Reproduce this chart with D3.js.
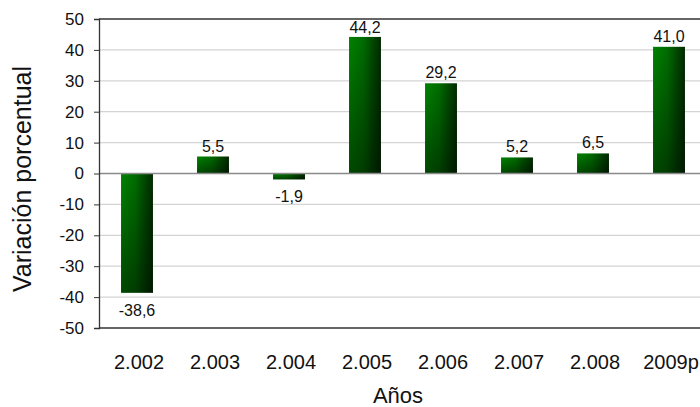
<!DOCTYPE html>
<html><head><meta charset="utf-8">
<script src="https://cdn.jsdelivr.net/npm/d3@7"></script>
<style>body{margin:0;background:#fff}svg{display:block;font-family:"Liberation Sans",Arial,sans-serif}</style>
</head><body><svg id="c" width="700" height="407"></svg>
<script>
const categories = ["2.002","2.003","2.004","2.005","2.006","2.007","2.008","2009p"];
const values = [-38.6, 5.5, -1.9, 44.2, 29.2, 5.2, 6.5, 41.0];
const valueLabels = ["-38,6","5,5","-1,9","44,2","29,2","5,2","6,5","41,0"];
const yTicks = [-50,-40,-30,-20,-10,0,10,20,30,40,50];
const yTitle = "Variación porcentual";
const xTitle = "Años";

const svg = d3.select("#c");
const L = 99, R = 707, T = 19, B = 328;
const x = d3.scaleBand().domain(categories).range([L, R]).paddingInner(0.58).paddingOuter(0.29);
const y = d3.scaleLinear().domain([-50, 50]).range([B, T]);

const defs = svg.append("defs");
const gh = defs.append("linearGradient").attr("id","gh").attr("x1",0).attr("x2",1).attr("y1",0).attr("y2",0);
gh.append("stop").attr("offset","0%").attr("stop-color","#008200");
gh.append("stop").attr("offset","45%").attr("stop-color","#006c00");
gh.append("stop").attr("offset","100%").attr("stop-color","#002a00");
const gv = defs.append("linearGradient").attr("id","gv").attr("x1",0).attr("x2",0).attr("y1",0).attr("y2",1);
gv.append("stop").attr("offset","0%").attr("stop-color","#000").attr("stop-opacity",0);
gv.append("stop").attr("offset","100%").attr("stop-color","#000").attr("stop-opacity",0.45);

// gridlines
svg.append("g").selectAll("line").data(yTicks.filter(d => d !== 0 && d !== 50 && d !== -50)).join("line")
  .attr("x1", L).attr("x2", 700).attr("y1", d => y(d)).attr("y2", d => y(d))
  .attr("stroke", "#d4d4d4").attr("stroke-width", 1.2);

// bars
const bars = svg.append("g");
bars.selectAll("rect.b").data(values).join("rect").attr("class","b")
  .attr("x", (d,i) => x(categories[i])).attr("width", x.bandwidth())
  .attr("y", d => y(Math.max(0,d))).attr("height", d => Math.abs(y(d) - y(0)))
  .attr("fill", "url(#gh)");
bars.selectAll("rect.o").data(values).join("rect").attr("class","o")
  .attr("x", (d,i) => x(categories[i])).attr("width", x.bandwidth())
  .attr("y", d => y(Math.max(0,d))).attr("height", d => Math.abs(y(d) - y(0)))
  .attr("fill", "url(#gv)");

// zero line
svg.append("line").attr("x1", L).attr("x2", 700).attr("y1", y(0)).attr("y2", y(0))
  .attr("stroke", "#8a8a8a").attr("stroke-width", 1.3);
// top & bottom border
svg.append("line").attr("x1", L).attr("x2", 700).attr("y1", y(50)).attr("y2", y(50)).attr("stroke", "#333").attr("stroke-width", 1.3);
svg.append("line").attr("x1", L).attr("x2", 700).attr("y1", y(-50)).attr("y2", y(-50)).attr("stroke", "#333").attr("stroke-width", 1.3);

// y axis
const ya = svg.append("g").attr("transform", `translate(${L},0)`)
  .call(d3.axisLeft(y).tickValues(yTicks).tickSize(5).tickPadding(10).tickFormat(d => String(d)));
ya.select(".domain").attr("stroke", "#333").attr("stroke-width", 1.3);
ya.selectAll(".tick line").attr("stroke", "#333");
ya.selectAll("text").attr("font-size", 17).attr("fill", "#111").attr("font-family", "Liberation Sans, Arial, sans-serif");

// x labels
svg.append("g").selectAll("text").data(categories).join("text")
  .attr("x", d => x(d) + x.bandwidth()/2 + 2).attr("y", 369)
  .attr("text-anchor", "middle").attr("font-size", 20).attr("fill", "#111").text(d => d);

// value labels
svg.append("g").selectAll("text").data(values).join("text")
  .attr("x", (d,i) => x(categories[i]) + x.bandwidth()/2)
  .attr("y", d => d >= 0 ? Math.max(y(d) - 5, 33) : y(d) + 23)
  .attr("text-anchor", "middle").attr("font-size", 16).attr("fill", "#111")
  .text((d,i) => valueLabels[i]);

// titles
svg.append("text").attr("transform", "translate(31,179) rotate(-90)")
  .attr("text-anchor", "middle").attr("font-size", 25).attr("fill", "#111").text(yTitle);
svg.append("text").attr("x", 398).attr("y", 403).attr("text-anchor", "middle")
  .attr("font-size", 22).attr("fill", "#111").text(xTitle);
</script></body></html>
